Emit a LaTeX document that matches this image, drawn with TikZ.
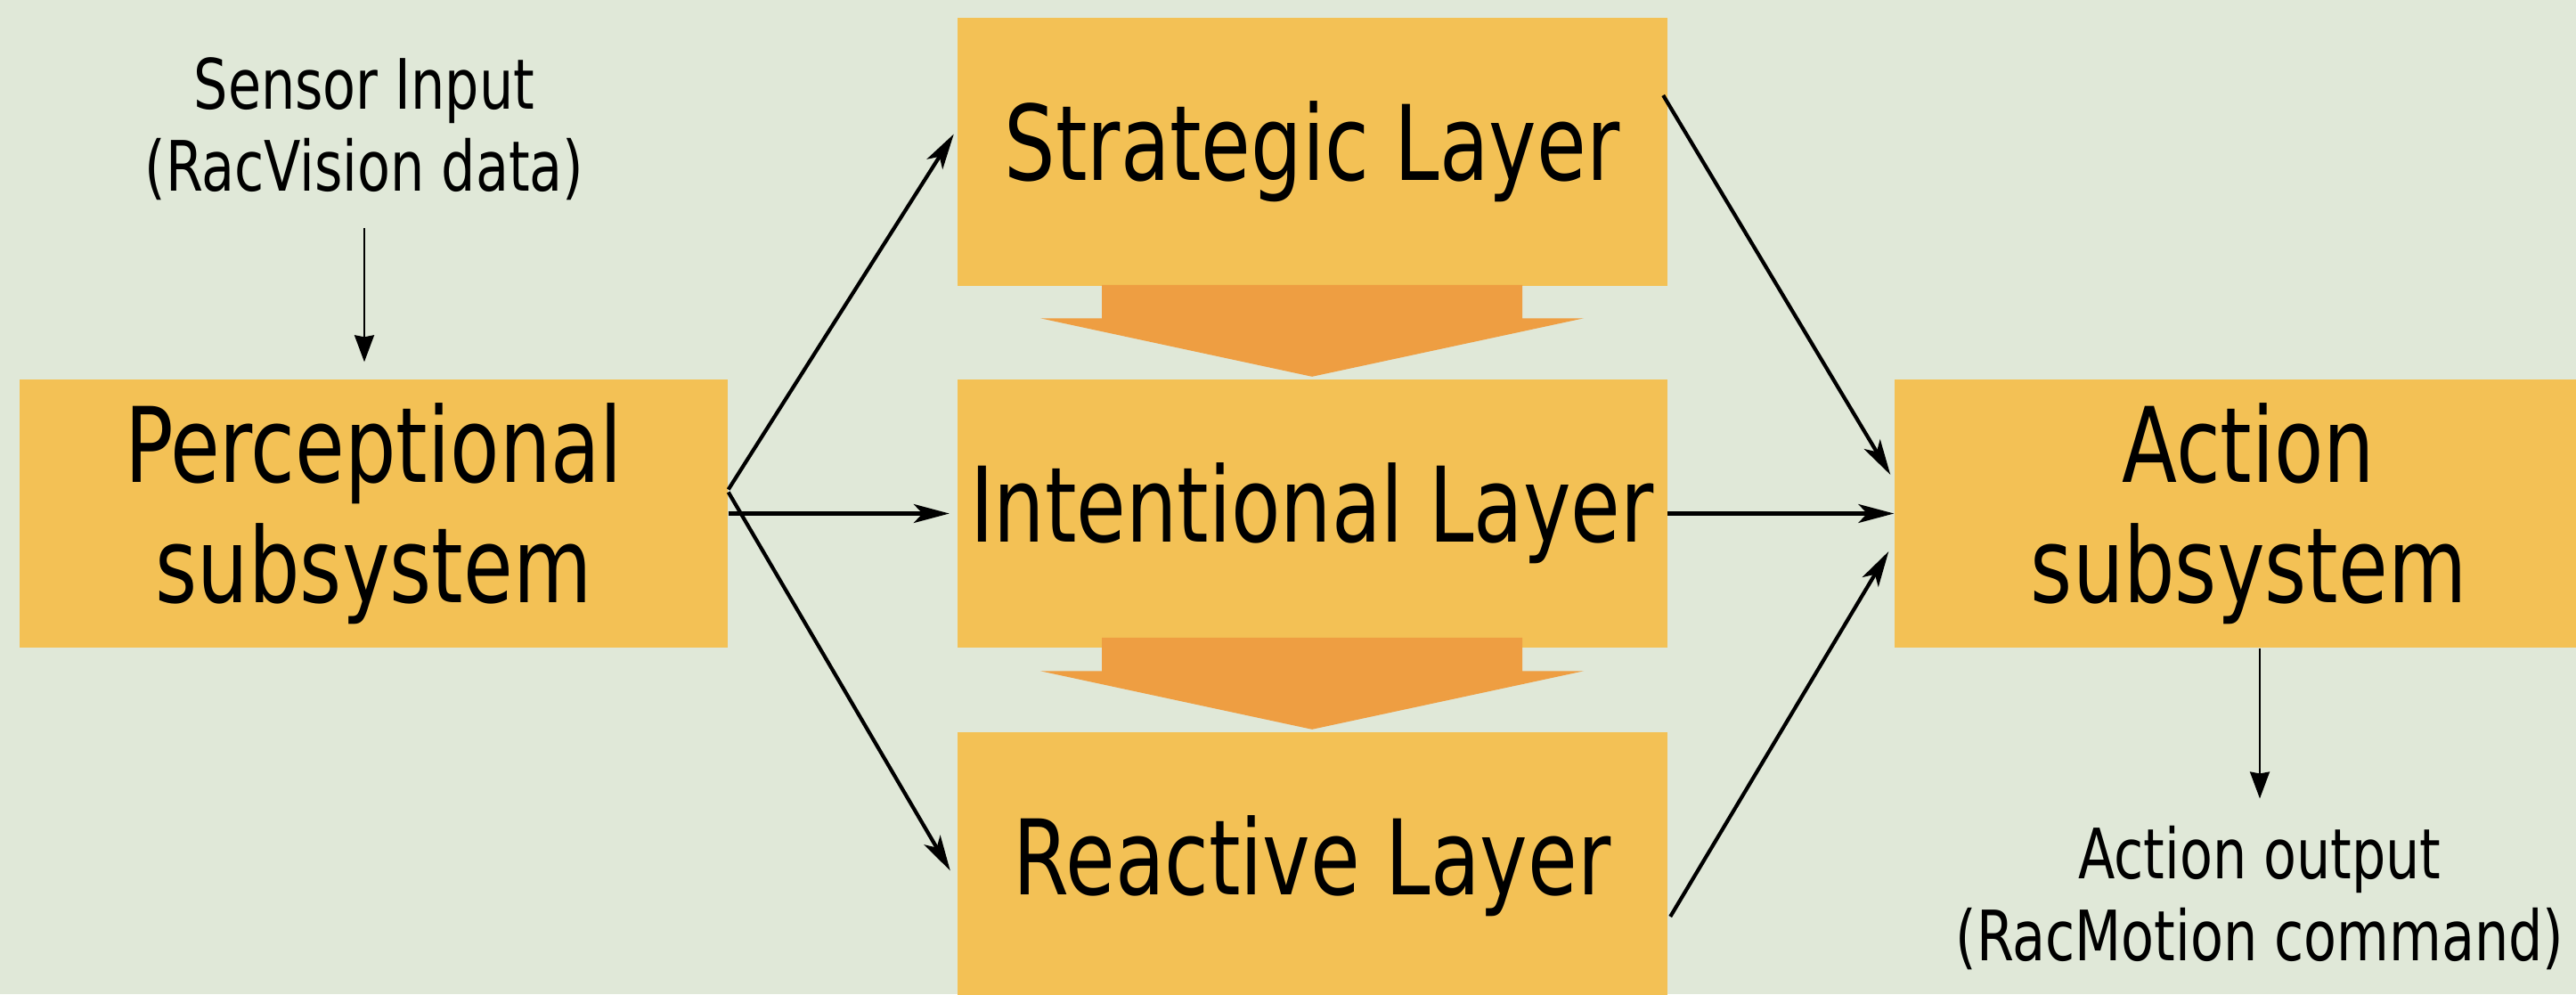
\documentclass[tikz,border=0pt]{standalone}
\usepackage{fontspec}
\setmainfont{DejaVu Sans Condensed}[FakeStretch=0.86]
\usetikzlibrary{arrows.meta}

\definecolor{backfill}{RGB}{224,232,216}
\definecolor{boxfill}{RGB}{243,193,85}
\definecolor{flowfill}{RGB}{238,158,66}

\newcommand{\bigfont}{\fontsize{33.3}{38.4}\selectfont}
\newcommand{\smallfont}{\fontsize{22.2}{26.2}\selectfont}

\tikzset{
    box/.style={fill=boxfill, minimum width=7.97cm, minimum height=3.01cm, inner sep=0pt, font=\bigfont, align=center},
    note/.style={font=\smallfont, align=center, inner sep=0.3cm},
    link/.style={-{Stealth[length=0.4cm, width=0.21cm, inset=0.1cm]}, line width=1.2pt},
    feed/.style={-{Stealth[length=0.3cm, width=0.22cm, inset=0.02cm]}, line width=0.65pt},
    flow/.style={fill=flowfill}
}

\begin{document}
\begin{tikzpicture}
    \fill[backfill] (0, 0) rectangle (28.92, 11.16);
    \useasboundingbox (0, 0) rectangle (28.92, 11.16);

    \node[box, minimum width=7.95cm] (percep) at (4.195, 5.395) {Perceptional\\subsystem};
    \node[box] (strat) at (14.73, 9.455) {Strategic Layer};
    \node[box] (inten) at (14.73, 5.395) {Intentional Layer};
    \node[box] (react) at (14.73, 1.435) {Reactive Layer};
    \node[box, minimum width=7.95cm] (action) at (25.245, 5.395) {Action\\subsystem};

    \node[note] (sensor) at (4.09, 9.71) {Sensor Input\\(RacVision data)};
    \node[note] (output) at (25.37, 1.08) {Action output\\(RacMotion command)};

    % wide arrows down the layer stack
    \foreach \upper/\lower in {strat/inten, inten/react} {
        \coordinate (tip) at ([yshift=0.025cm]\lower.north);
        \fill[flow] ([xshift=-2.36cm, yshift=1.03cm]tip) -- ([xshift=2.36cm, yshift=1.03cm]tip)
            -- ([xshift=2.36cm, yshift=0.655cm]tip) -- ([xshift=3.05cm, yshift=0.655cm]tip)
            -- (tip) -- ([xshift=-3.05cm, yshift=0.655cm]tip)
            -- ([xshift=-2.36cm, yshift=0.655cm]tip) -- cycle;
    }

    % perception feeds all three layers
    \draw[link] ([yshift=0.27cm]percep.east) -- ([xshift=-0.03cm, yshift=0.2cm]strat.west);
    \draw[link] (percep.east) -- ([xshift=-0.08cm]inten.west);
    \draw[link] ([yshift=0.24cm]percep.east) -- ([xshift=-0.07cm, yshift=-0.05cm]react.west);

    % layers drive the action subsystem
    \draw[link] ([xshift=-0.05cm, yshift=0.635cm]strat.east) -- ([xshift=-0.04cm, yshift=0.435cm]action.west);
    \draw[link] (inten.east) -- (action.west);
    \draw[link] ([xshift=0.03cm, yshift=-0.565cm]react.east) -- ([xshift=-0.06cm, yshift=-0.425cm]action.west);

    \draw[feed, shorten >=0.19cm] (sensor.south) -- (sensor.south |- percep.north);
    \draw[feed] (action.south -| output.north) -- (output.north);
\end{tikzpicture}
\end{document}
